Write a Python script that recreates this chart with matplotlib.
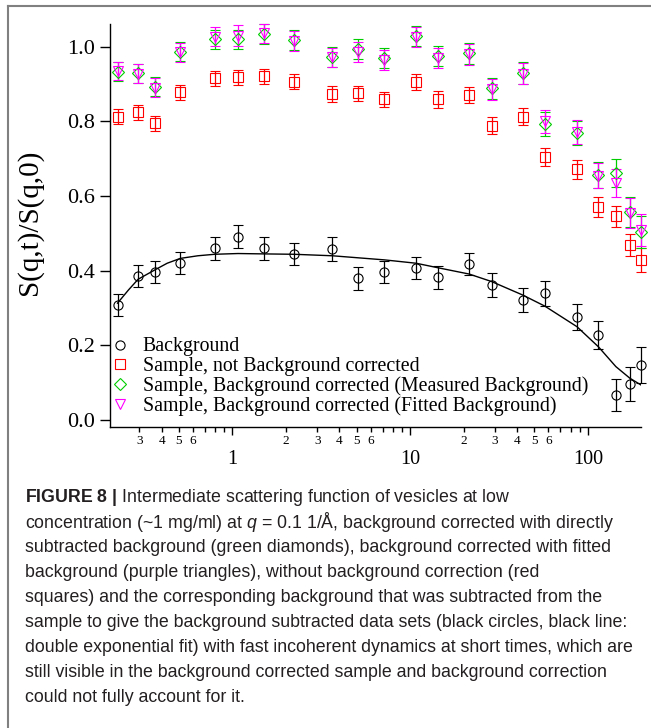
import matplotlib

matplotlib.use("Agg")
import matplotlib.pyplot as plt
from matplotlib import font_manager
from matplotlib.lines import Line2D
from matplotlib.ticker import NullLocator

# delay times (ns) shared by all data sets
t = [0.226, 0.295, 0.366, 0.510, 0.796, 1.075, 1.505, 2.22, 3.65, 5.08, 7.17,
     10.8, 14.3, 21.5, 28.7, 42.9, 57.3, 86.8, 114.7, 143.7, 172.2, 198.6]

bg = [0.308, 0.386, 0.396, 0.421, 0.460, 0.491, 0.460, 0.444, 0.458, 0.380, 0.397,
      0.408, 0.382, 0.418, 0.362, 0.321, 0.339, 0.275, 0.228, 0.067, 0.096, 0.147]
bg_err = [0.030, 0.030, 0.030, 0.030, 0.030, 0.031, 0.030, 0.030, 0.031, 0.031, 0.030,
          0.030, 0.030, 0.030, 0.032, 0.033, 0.033, 0.035, 0.037, 0.042, 0.045, 0.048]

raw = [0.812, 0.824, 0.795, 0.878, 0.915, 0.918, 0.921, 0.906, 0.873, 0.875, 0.859,
       0.906, 0.859, 0.871, 0.788, 0.813, 0.705, 0.672, 0.571, 0.546, 0.469, 0.429]
raw_err = [0.020, 0.020, 0.020, 0.020, 0.020, 0.020, 0.020, 0.020, 0.021, 0.021, 0.021,
           0.022, 0.022, 0.022, 0.023, 0.023, 0.024, 0.025, 0.026, 0.028, 0.030, 0.032]

meas = [0.933, 0.929, 0.893, 0.987, 1.020, 1.020, 1.034, 1.018, 0.973, 0.993, 0.969,
        1.029, 0.975, 0.982, 0.889, 0.930, 0.793, 0.768, 0.656, 0.661, 0.558, 0.504]
meas_err = [0.025, 0.025, 0.025, 0.026, 0.026, 0.026, 0.026, 0.026, 0.026, 0.027, 0.027,
            0.027, 0.027, 0.028, 0.028, 0.029, 0.031, 0.032, 0.034, 0.037, 0.040, 0.043]

fitted = [0.935, 0.928, 0.890, 0.985, 1.027, 1.030, 1.036, 1.015, 0.972, 0.985, 0.965,
          1.027, 0.970, 0.980, 0.886, 0.928, 0.800, 0.772, 0.655, 0.635, 0.555, 0.510]
fitted_err = [0.025, 0.025, 0.025, 0.026, 0.026, 0.027, 0.026, 0.026, 0.026, 0.027, 0.027,
              0.027, 0.027, 0.028, 0.028, 0.029, 0.031, 0.032, 0.034, 0.037, 0.040, 0.043]

# double exponential fit of the background
fit_t = [0.226, 0.26, 0.295, 0.366, 0.43, 0.510, 0.64, 0.796, 1.075, 1.505, 2.22, 3.65,
         7.17, 10.8, 14.3, 21.5, 28.7, 42.9, 57.3, 86.8, 114.7, 143.7, 172.2, 198.6]
fit_y = [0.313, 0.348, 0.377, 0.402, 0.420, 0.433, 0.440, 0.444, 0.446, 0.445, 0.444, 0.440,
         0.429, 0.420, 0.408, 0.391, 0.371, 0.335, 0.305, 0.250, 0.196, 0.143, 0.112, 0.094]

labels = ["Background",
          "Sample, not Background corrected",
          "Sample, Background corrected (Measured Background)",
          "Sample, Background corrected (Fitted Background)"]

y_ticks = [0.0, 0.2, 0.4, 0.6, 0.8, 1.0]
x_major = [1, 10, 100]
x_minor = [0.3, 0.4, 0.5, 0.6, 0.7, 0.8, 0.9,
           2, 3, 4, 5, 6, 7, 8, 9,
           20, 30, 40, 50, 60, 70, 80, 90]
x_minor_labels = ["3", "4", "5", "6", "", "", "",
                  "2", "3", "4", "5", "6", "", "", "",
                  "2", "3", "4", "5", "6", "", "", ""]

caption = [
    r"$\mathbf{FIGURE\ 8\ |}$ Intermediate scattering function of vesicles at low",
    r"concentration (~1 mg/ml) at $\mathit{q}$ = 0.1 1/Å, background corrected with directly",
    "subtracted background (green diamonds), background corrected with fitted",
    "background (purple triangles), without background correction (red",
    "squares) and the corresponding background that was subtracted from the",
    "sample to give the background subtracted data sets (black circles, black line:",
    "double exponential fit) with fast incoherent dynamics at short times, which are",
    "still visible in the background corrected sample and background correction",
    "could not fully account for it.",
]

names = {f.name for f in font_manager.fontManager.ttflist}
narrow = "Liberation Sans Narrow" in names
CAP_FONT = "Liberation Sans Narrow" if narrow else "Liberation Sans"
CAP_SIZE = 14.3 if narrow else 12.8

plt.rcParams["font.family"] = "Liberation Serif"
plt.rcParams["mathtext.fontset"] = "custom"
plt.rcParams["mathtext.rm"] = CAP_FONT
plt.rcParams["mathtext.it"] = CAP_FONT + ":italic"
plt.rcParams["mathtext.bf"] = CAP_FONT + ":bold"

W, H = 651, 728
fig = plt.figure(figsize=(W / 100, H / 100), dpi=100)
ax = fig.add_axes([110 / W, (H - 427) / H, 531 / W, 403 / H])

styles = [
    (bg, bg_err, "o", "black"),
    (raw, raw_err, "s", "#ff0000"),
    (meas, meas_err, "D", "#00cc00"),
    (fitted, fitted_err, "v", "#ff00ff"),
]
sizes = {"o": 6.6, "s": 7.0, "D": 6.0, "v": 7.2}

ax.plot(fit_t, fit_y, color="black", lw=1.0, zorder=3)

handles = []
for (vals, errs, mk, col), lab in zip(styles, labels):
    cont = ax.errorbar(t, vals, yerr=errs, fmt=mk, ms=sizes[mk], mfc="none", mec=col,
                       mew=0.8, ecolor=col, elinewidth=0.9, capsize=3.4, capthick=0.9)
    for a in cont.get_children():
        a.set_clip_on(False)
    handles.append(Line2D([], [], ls="none", marker=mk, ms=sizes[mk], mfc="none",
                          mec=col, mew=0.8, label=lab))

ax.set_xscale("log")
ax.set_xlim(0.205, 199)
ax.set_ylim(-0.0188, 1.061)

ax.set_yticks(y_ticks, labels=[f"{v:.1f}" for v in y_ticks])
ax.yaxis.set_minor_locator(NullLocator())
ax.set_xticks(x_major, labels=[str(v) for v in x_major])
ax.set_xticks(x_minor, labels=x_minor_labels, minor=True)

ax.tick_params(axis="y", direction="out", length=7.2, width=1.0, pad=3.6, labelsize=16)
ax.tick_params(axis="x", which="major", direction="out", length=5.8, width=1.0,
               pad=11.0, labelsize=14.5)
ax.tick_params(axis="x", which="minor", direction="out", length=3.6, width=1.0,
               pad=2.0, labelsize=9.5)

for side in ("top", "right"):
    ax.spines[side].set_visible(False)
for side in ("left", "bottom"):
    ax.spines[side].set_linewidth(1.0)

ax.set_ylabel("S(q,t)/S(q,0)", fontsize=21, va="center")
ax.yaxis.set_label_coords((30 - 110) / 531, (427 - 222) / 403)

ax.legend(handles=handles, loc="lower left", bbox_to_anchor=(0.0, 0.027), frameon=False,
          fontsize=14.3, handlelength=1.0, handletextpad=0.65, labelspacing=0.02,
          borderpad=0.0, borderaxespad=0.0)

# page frame
fig.add_artist(Line2D([8 / W, 8 / W], [0, 1 - 6 / H], transform=fig.transFigure,
                      color="#808080", lw=1.5))
fig.add_artist(Line2D([8 / W, 1], [1 - 6 / H, 1 - 6 / H], transform=fig.transFigure,
                      color="#808080", lw=1.5))

for i, line in enumerate(caption):
    y = 497 + 25.1 * i
    fig.text(25 / W, 1 - y / H, line, family=CAP_FONT, fontsize=CAP_SIZE,
             color="#231f20", va="center", ha="left")

fig.savefig("out.png", dpi=100)
